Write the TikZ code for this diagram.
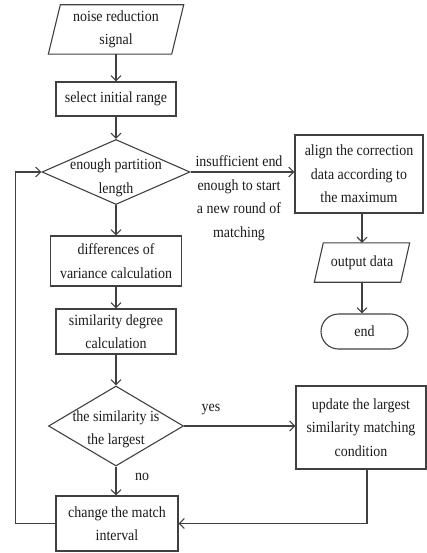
\documentclass[tikz,border=0pt]{standalone}
\usepackage{fontspec}
\setmainfont[FakeStretch=0.9]{Liberation Serif}
\usetikzlibrary{shapes.geometric,arrows.meta,calc}
\definecolor{lc}{HTML}{404040}
\definecolor{tc}{HTML}{1A1A1A}
\begin{document}
\begin{tikzpicture}[x=1pt,y=-1pt]
\tikzset{
  fnt/.style={font=\fontsize{15.5}{23.5}\selectfont, text=tc},
  txt/.style={fnt, align=center, inner sep=0pt},
  box/.style={txt, draw=lc, line width=1.1pt, rectangle},
  dia/.style={draw=lc, line width=1.1pt, diamond, inner sep=0pt},
  ln/.style={draw=lc, line width=1.1pt},
  arr/.style={ln, -{Straight Barb[length=5pt,width=10pt]}}
}
\useasboundingbox (0,0) rectangle (427,553);

% left column
\node[txt, minimum width=123pt, minimum height=49pt] (in) at (116,29.5) {noise reduction\\signal};
\draw[ln] ($(in.north west)+(6,0)$) -- ($(in.north east)+(6,0)$) -- ($(in.south east)+(-6,0)$) -- ($(in.south west)+(-6,0)$) -- cycle;

\node[box, minimum width=120pt, minimum height=34pt] (sel) at (116,99) {select initial range};

\node[dia, minimum width=148pt, minimum height=65pt] (d1) at (116,172) {};
\node[txt] (d1t) at (116,178) {enough partition\\length};

\node[box, minimum width=131pt, minimum height=50pt] (diff) at (116,261) {differences of\\variance calculation};

\node[box, minimum width=120pt, minimum height=45pt] (sim) at (116,331.5) {similarity degree\\calculation};

\node[dia, minimum width=135pt, minimum height=80pt] (d2) at (116,426) {};
\node[txt] (d2t) at (116,429.5) {the similarity is\\the largest};

\node[box, minimum width=122pt, minimum height=55pt] (chg) at (117,523.5) {change the match\\interval};

% right column
\node[box, minimum width=128pt, minimum height=78pt] (aln) at (359,174) {align the correction\\data according to\\the maximum};

\node[txt, minimum width=86pt, minimum height=39pt] (out) at (362,262.5) {output data};
\draw[ln] ($(out.north west)+(4.5,0)$) -- ($(out.north east)+(4.5,0)$) -- ($(out.south east)+(-4.5,0)$) -- ($(out.south west)+(-4.5,0)$) -- cycle;

\node[box, rounded corners=17.5pt, minimum width=87pt, minimum height=35pt] (end) at (364.5,331.5) {end};

\node[box, minimum width=130pt, minimum height=83pt] (upd) at (361,427.5) {update the largest\\similarity matching\\condition};

% labels
\node[txt] (lab) at (239,198) {insufficient end\\enough to start\\a new round of\\matching};
\node[txt] (yes) at (211,410) {yes};
\node[txt] (no) at (142,477) {no};

% connectors
\draw[arr] (in.south) -- (sel.north);
\draw[arr] (sel.south) -- (d1.north);
\draw[arr] (d1.south) -- (diff.north);
\draw[arr] (diff.south) -- (sim.north);
\draw[arr] (sim.south) -- (d2.north);
\draw[arr] (d2.south) -- (d2.south |- chg.north);
\draw[arr] (d1.east) -- (d1.east -| aln.west);
\draw[arr] (out.north |- aln.south) -- (out.north);
\draw[arr] (out.south) -- (out.south |- end.north);
\draw[arr] (d2.east) -- (d2.east -| upd.west);
\draw[arr] ([xshift=6pt]upd.south) |- (chg.east);
\draw[arr] (chg.west) -- ++(-40,0) |- (d1.west);
\end{tikzpicture}
\end{document}
